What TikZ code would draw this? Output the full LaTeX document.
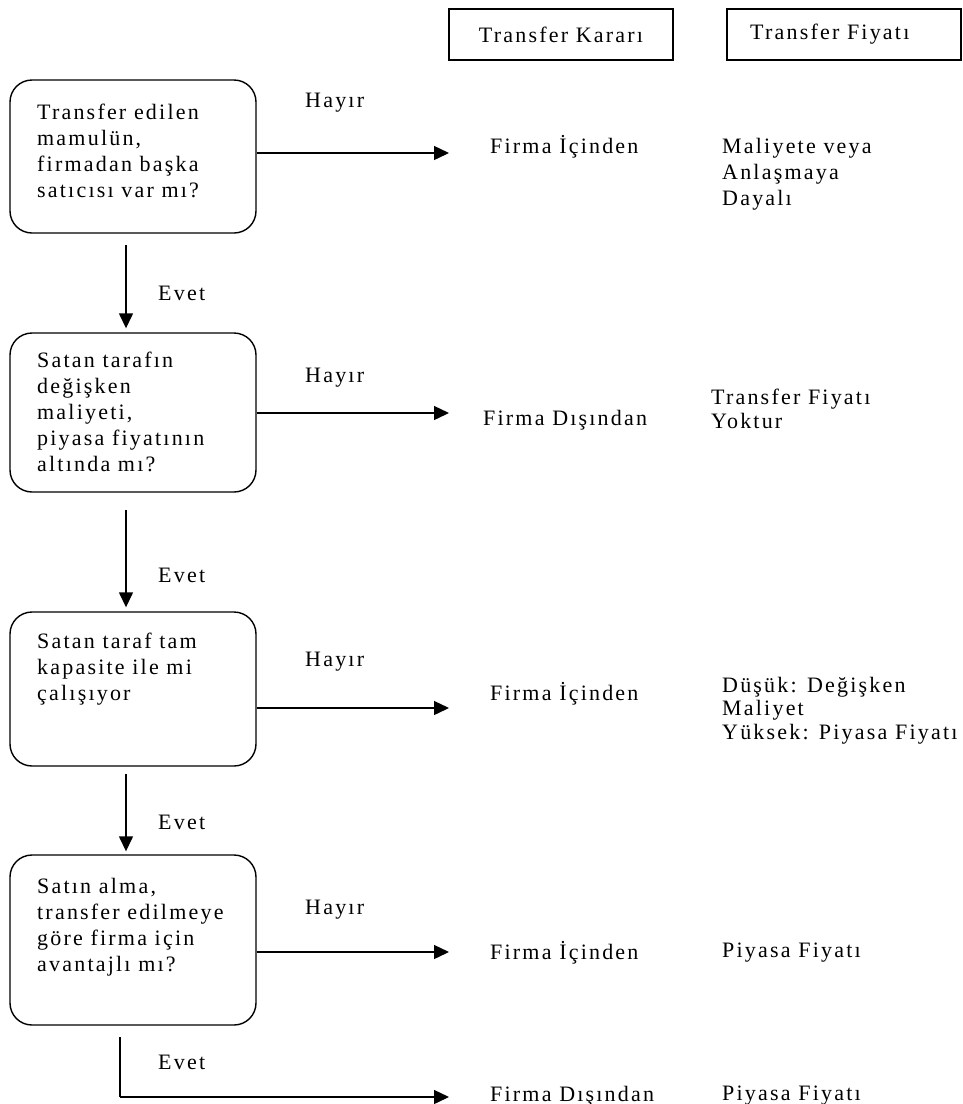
\documentclass[tikz,border=0pt]{standalone}
\usepackage{fontspec}
\setmainfont{Liberation Serif}[LetterSpace=10]
\usetikzlibrary{arrows.meta}
\begin{document}
\begin{tikzpicture}[x=1pt,y=-1pt,
  qbox/.style={draw,line width=1.4pt,rounded corners=22pt,inner sep=0pt},
  hbox/.style={draw,line width=2.4pt,inner sep=0pt},
  txt/.style={inner sep=0pt,font=\fontsize{22}{26}\selectfont},
  mtxt/.style={txt,align=left,anchor=north west},
  arr/.style={line width=1.4pt,-{Triangle[length=15pt,width=14pt]}},
  ln/.style={line width=1.4pt}]
\useasboundingbox (0,0) rectangle (962,1104);
% header boxes
\node[hbox,minimum width=224pt,minimum height=51pt] (hk) at (561,34.5) {};
\node[txt] (hkt) at (hk.center) {Transfer Kararı};
\node[hbox,minimum width=234pt,minimum height=51pt] (hf) at (844,34.5) {};
\node[txt,anchor=west] (hft) at (750,34) {Transfer Fiyatı};
% question boxes
\node[qbox,minimum width=246pt,minimum height=153pt] (b1) at (133,156.5) {};
\node[qbox,minimum width=246pt,minimum height=159pt] (b2) at (133,412.5) {};
\node[qbox,minimum width=246pt,minimum height=154pt] (b3) at (133,689) {};
\node[qbox,minimum width=246pt,minimum height=170pt] (b4) at (133,940) {};
\node[mtxt] (q1) at (37,104) {Transfer edilen\\mamulün,\\firmadan başka\\satıcısı var mı?};
\node[mtxt] (q2) at (37,352) {Satan tarafın\\değişken\\maliyeti,\\piyasa fiyatının\\altında mı?};
\node[mtxt] (q3) at (37,633) {Satan taraf tam\\kapasite ile mi\\çalışıyor};
\node[mtxt] (q4) at (37,878) {Satın alma,\\transfer edilmeye\\göre firma için\\avantajlı mı?};
% Hayir labels
\node[txt,anchor=west] (h1) at (305,103) {Hayır};
\node[txt,anchor=west] (h2) at (305,378) {Hayır};
\node[txt,anchor=west] (h3) at (305,662) {Hayır};
\node[txt,anchor=west] (h4) at (305,910) {Hayır};
% Evet labels
\node[txt,anchor=west] (e1) at (158,293) {Evet};
\node[txt,anchor=west] (e2) at (158,575) {Evet};
\node[txt,anchor=west] (e3) at (158,822) {Evet};
\node[txt,anchor=west] (e4) at (158,1062) {Evet};
% decisions
\node[txt,anchor=west] (d1) at (490,147) {Firma İçinden};
\node[txt,anchor=west] (d2) at (483,420) {Firma Dışından};
\node[txt,anchor=west] (d3) at (490,694) {Firma İçinden};
\node[txt,anchor=west] (d4) at (490,953) {Firma İçinden};
\node[txt,anchor=west] (d5) at (490,1096) {Firma Dışından};
% prices
\node[mtxt,font=\fontsize{22}{26}\selectfont] (p1) at (722,138) {Maliyete veya\\Anlaşmaya\\Dayalı};
\node[mtxt,font=\fontsize{22}{23.5}\selectfont] (p2) at (711,389) {Transfer Fiyatı\\Yoktur};
\node[mtxt,font=\fontsize{22}{23.5}\selectfont] (p3) at (722,677) {Düşük: Değişken\\Maliyet\\Yüksek: Piyasa Fiyatı};
\node[txt,anchor=west] (p4) at (722,953) {Piyasa Fiyatı};
\node[txt,anchor=west] (p5) at (722,1096) {Piyasa Fiyatı};
% arrow end coordinates
\coordinate (r1) at (449,153);
\coordinate (r2) at (449,413);
\coordinate (r3) at (449,708);
\coordinate (r4) at (449,952);
\coordinate (r5) at (449,1097);
\coordinate (c5) at (120,1097);
\coordinate (t1) at (126,245);
\coordinate (t2) at (126,510);
\coordinate (t3) at (126,774);
\coordinate (t4) at (120,1037);
% Hayir arrows
\draw[arr] (b1.east |- r1) -- (r1);
\draw[arr] (b2.east |- r2) -- (r2);
\draw[arr] (b3.east |- r3) -- (r3);
\draw[arr] (b4.east |- r4) -- (r4);
% Evet arrows
\draw[arr] (t1) -- ([yshift=4pt]t1 |- b2.north);
\draw[arr] (t2) -- ([yshift=4pt]t2 |- b3.north);
\draw[arr] (t3) -- ([yshift=3pt]t3 |- b4.north);
\draw[ln] (t4) -- (c5);
\draw[arr] (c5) -- (r5);
\end{tikzpicture}
\end{document}
